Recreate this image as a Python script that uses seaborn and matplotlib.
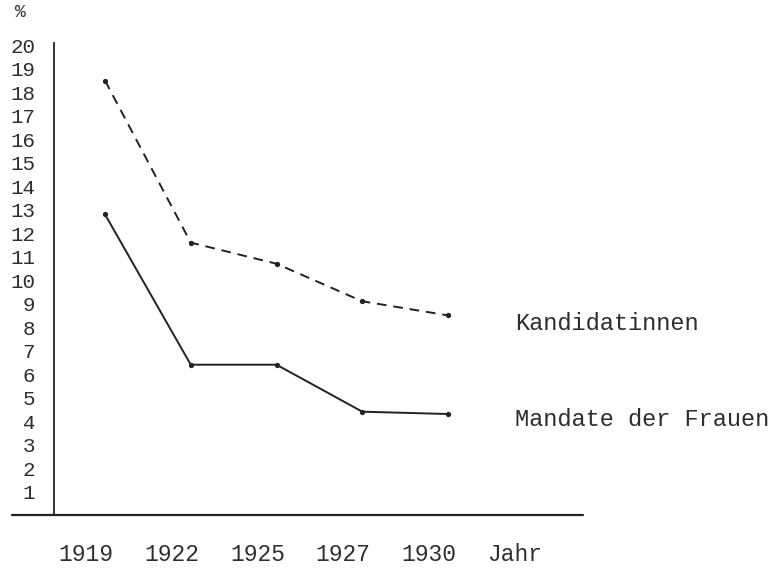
import matplotlib
matplotlib.use("Agg")
import matplotlib.pyplot as plt
import matplotlib.transforms as mtransforms
import seaborn as sns
import pandas as pd

# Daten
jahre = ["1919", "1922", "1925", "1927", "1930"]
kandidatinnen = [18.5, 11.6, 10.7, 9.1, 8.5]
mandate = [12.8, 6.4, 6.4, 4.4, 4.3]
y_ticks = list(range(1, 21))

sns.set_style("white")
plt.rcParams["font.family"] = ["Liberation Mono", "DejaVu Sans Mono"]

df = pd.DataFrame({"pos": range(len(jahre)), "kand": kandidatinnen, "mand": mandate})

fig = plt.figure(figsize=(7.76, 5.70), dpi=100)
ax = fig.add_axes([54 / 776, 55 / 570, 529 / 776, 472 / 570])

ink = "#222222"
txt = "#2e2e2e"
sns.lineplot(data=df, x="pos", y="kand", ax=ax, color=ink, linestyle=(0, (5, 3.5)),
             linewidth=1.4, marker="o", markersize=3.8, markeredgewidth=0)
sns.lineplot(data=df, x="pos", y="mand", ax=ax, color=ink, linestyle="-",
             linewidth=1.4, marker="o", markersize=3.8, markeredgewidth=0)

ax.set_xlim(-0.595, 5.574)
ax.set_ylim(0, 20.1)

# Achsen
for s in ["top", "right", "bottom"]:
    ax.spines[s].set_visible(False)
ax.spines["left"].set_color(ink)
ax.spines["left"].set_linewidth(1.3)
ax.plot([-0.08, 1.0], [0, 0], transform=ax.transAxes, clip_on=False,
        color=ink, linewidth=1.6)

ax.set_yticks(y_ticks)
ax.set_yticklabels([str(v) for v in y_ticks], fontsize=15, color=txt)
ax.tick_params(axis="y", length=0, pad=13.5)

ax.set_xticks(list(range(len(jahre) + 1)))
ax.set_xticklabels(jahre + ["Jahr"], fontsize=16.5, color=txt)
ax.tick_params(axis="x", length=0, pad=20)
shift = mtransforms.ScaledTranslation(-19 / 100, 0, fig.dpi_scale_trans)
for lab in ax.get_xticklabels():
    lab.set_transform(lab.get_transform() + shift)

ax.set_xlabel("")
ax.set_ylabel("")
ax.grid(False)

ax.text(-0.064, 1.064, "%", transform=ax.transAxes, ha="center", va="center",
        fontsize=13, color=txt)

ax.text(4.78, kandidatinnen[-1] - 0.35, "Kandidatinnen", fontsize=17,
        color=txt, va="center", ha="left")
ax.text(4.78, mandate[-1] - 0.25, "Mandate der Frauen", fontsize=17,
        color=txt, va="center", ha="left")

fig.savefig("out.png", dpi=100)
